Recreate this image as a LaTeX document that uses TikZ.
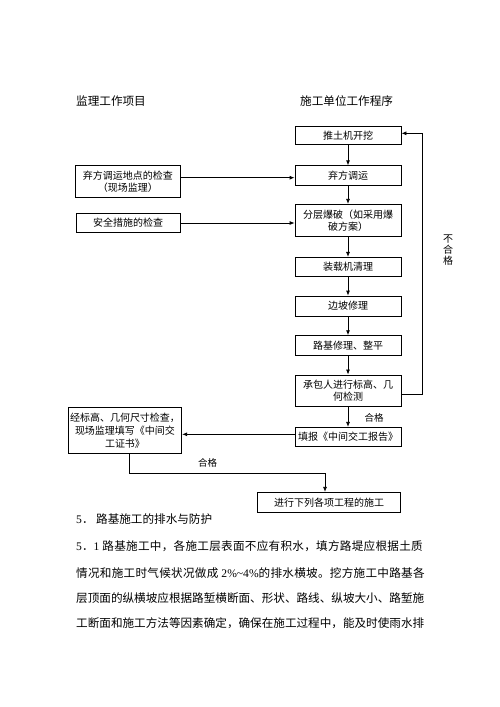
\documentclass[tikz,border=0pt]{standalone}
\usepackage{fontspec}
\setmainfont{Noto Sans CJK SC}
\newfontfamily\lat{Liberation Serif}
\usetikzlibrary{arrows.meta}
\begin{document}
\begin{tikzpicture}[x=1pt,y=-1pt,
 box/.style={draw, line width=0.8pt, inner sep=0pt, align=center, font=\fontsize{10}{12}\selectfont},
 arr/.style={line width=0.8pt, -{Latex[length=5pt,width=4pt]}},
 lbl/.style={inner sep=0pt, font=\fontsize{9.5}{11}\selectfont},
 txt/.style={inner sep=0pt, anchor=west, font=\fontsize{11.6}{14}\selectfont}]
\fill[white] (0,0) rectangle (500,707);
\useasboundingbox (0,0) rectangle (500,707);

% titles
\node[txt] (t1) at (76,100.7) {监理工作项目};
\node[txt] (t2) at (300,100.7) {施工单位工作程序};

% right column
\node[box, minimum width=106pt, minimum height=17.6pt] (b1) at (348,135.5) {推土机开挖};
\node[box, minimum width=106pt, minimum height=19.3pt] (b2) at (348,175.4) {弃方调运};
\node[box, minimum width=106pt, minimum height=32.4pt] (b3) at (348,220.5) {分层爆破（如采用爆\\破方案）};
\node[box, minimum width=106pt, minimum height=18.7pt] (b4) at (348,266.7) {装载机清理};
\node[box, minimum width=106pt, minimum height=20pt] (b5) at (348,306) {边坡修理};
\node[box, minimum width=106pt, minimum height=19.3pt] (b6) at (348,345.3) {路基修理、整平};
\node[box, minimum width=106pt, minimum height=31.7pt] (b7) at (348,390.8) {承包人进行标高、几\\何检测};
\node[box, minimum width=106pt, minimum height=19.4pt] (b8) at (348,437) {填报《中间交工报告》};
\node[box, minimum width=143.4pt, minimum height=20pt] (b9) at (329,502.3) {进行下列各项工程的施工};

% left column
\node[box, minimum width=104.3pt, minimum height=32pt] (L1) at (127.9,181.7) {弃方调运地点的检查\\（现场监理）};
\node[box, minimum width=104pt, minimum height=19.4pt] (L2) at (128,223) {安全措施的检查};
\node[box, minimum width=113.4pt, minimum height=45.6pt, font=\fontsize{10}{12.8}\selectfont] (L3) at (125,430.5) {经标高、几何尺寸检查，\\现场监理填写《中间交\\工证书》};

% vertical flow
\draw[arr] (b1) -- (b2);
\draw[arr] (b2) -- (b3);
\draw[arr] (b3) -- (b4);
\draw[arr] (b4) -- (b5);
\draw[arr] (b5) -- (b6);
\draw[arr] (b6) -- (b7);
\draw[arr] (b7) -- (b8);

% horizontal arrows
\draw[arr] ([yshift=4pt]L1.east) -- ([yshift=4pt]L1.east -| b2.west);
\draw[arr] (L2.east) -- (L2.east -| b3.west);
\draw[arr] ([yshift=2.7pt]b8.west) -- ([yshift=2.7pt]b8.west -| L3.east);

% feedback loop
\coordinate (fb1) at (422,394);
\coordinate (fb2) at (422,133.3);
\draw[arr] (b7.east |- fb1) -- (fb1) -- (fb2) -- (fb2 -| b1.east);
\node[lbl, font=\fontsize{10}{11}\selectfont, align=center] (ng) at (448,250) {不\\合\\格};

% bottom connector
\coordinate (c1) at (129,473.3);
\coordinate (c2) at (325,473.3);
\draw[arr] (L3.south -| c1) -- (c1) -- (c2) -- (c2 |- b9.north);
\node[lbl] (ok1) at (374,417.7) {合格};
\node[lbl] (ok2) at (207.7,463.3) {合格};

% text below
\node[txt] (h5) at (76,519) {{\lat 5}．\hspace{2.6pt}路基施工的排水与防护};
\node[txt] (p1) at (76,546) {{\lat 5}．{\lat 1}\hspace{3pt}{\addfontfeature{LetterSpace=2.4}路基施工中，各施工层表面不应有积水，填方路堤应根据土质}};
\node[txt] (p2) at (76,572.7) {{\addfontfeature{LetterSpace=2.4}情况和施工时气候状况做成}\hspace{3pt}{\lat 2\%\textasciitilde4\%}{\addfontfeature{LetterSpace=2.4}的排水横坡。挖方施工中路基各}};
\node[txt] (p3) at (76,598.3) {层顶面的纵横坡应根据路堑横断面、形状、路线、纵坡大小、路堑施};
\node[txt] (p4) at (76,623.3) {工断面和施工方法等因素确定，确保在施工过程中，能及时使雨水排};
\end{tikzpicture}
\end{document}
